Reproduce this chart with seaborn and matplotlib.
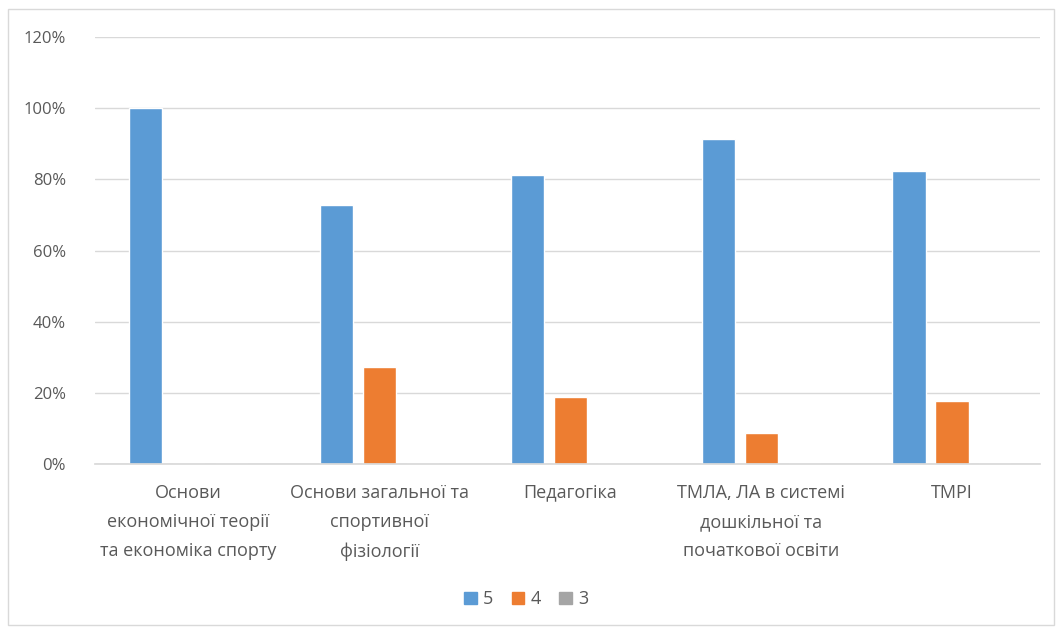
import pandas as pd
import seaborn as sns
import matplotlib.pyplot as plt
from matplotlib.patches import Rectangle
from matplotlib.ticker import PercentFormatter

categories = [
    "Основи\nекономічної теорії\nта економіка спорту",
    "Основи загальної та\nспортивної\nфізіології",
    "Педагогіка",
    "ТМЛА, ЛА в системі\nдошкільної та\nпочаткової освіти",
    "ТМРІ",
]
grade_5 = [100, 72.7, 81.25, 91.3, 82.35]
grade_4 = [0, 27.3, 18.75, 8.7, 17.65]
grade_3 = [0, 0, 0, 0, 0]
series_names = ["5", "4", "3"]
colors = ["#5B9BD5", "#ED7D31", "#A5A5A5"]

rows = []
for name, vals in zip(series_names, [grade_5, grade_4, grade_3]):
    for cat, v in zip(categories, vals):
        rows.append({"category": cat, "grade": name, "value": v})
df = pd.DataFrame(rows)

sns.set_theme(style="white")
plt.rcParams['font.family'] = ['Open Sans', 'DejaVu Sans']

fig = plt.figure(figsize=(10.61, 6.29), dpi=100)
ax = fig.add_axes([0.0895, 0.262, 0.8905, 0.679])

sns.barplot(data=df, x="category", y="value", hue="grade",
            palette=colors, width=0.675, gap=0.23, ax=ax, legend=False,
            saturation=1)

ax.set_ylim(0, 120)
ax.set_xlim(-0.49, 4.46)
ax.set_yticks(range(0, 121, 20))
ax.yaxis.set_major_formatter(PercentFormatter(decimals=0))
ax.yaxis.grid(True, color="#d9d9d9", linewidth=1)
ax.set_axisbelow(True)
for s in ["top", "right", "left"]:
    ax.spines[s].set_visible(False)
ax.spines["bottom"].set_color("#d9d9d9")
ax.tick_params(axis="both", length=0, colors="#595959", labelsize=12)
ax.tick_params(axis="y", pad=21)
ax.tick_params(axis="x", pad=14)
for lbl in ax.get_xticklabels():
    lbl.set_fontsize(13)
    lbl.set_linespacing(1.8)
ax.set_xlabel("")
ax.set_ylabel("")

handles = [Rectangle((0, 0), 1, 1, color=c) for c in colors]
fig.legend(handles, series_names, loc="center", bbox_to_anchor=(0.496, 0.047),
           ncol=3, frameon=False, handlelength=0.7, handleheight=0.7,
           handletextpad=0.35, columnspacing=1.0, fontsize=13,
           labelcolor="#595959")

fig.patches.append(Rectangle((0.008, 0.006), 0.985, 0.98, transform=fig.transFigure,
                             fill=False, edgecolor="#d9d9d9", linewidth=1))

plt.savefig("out.png", dpi=100)
